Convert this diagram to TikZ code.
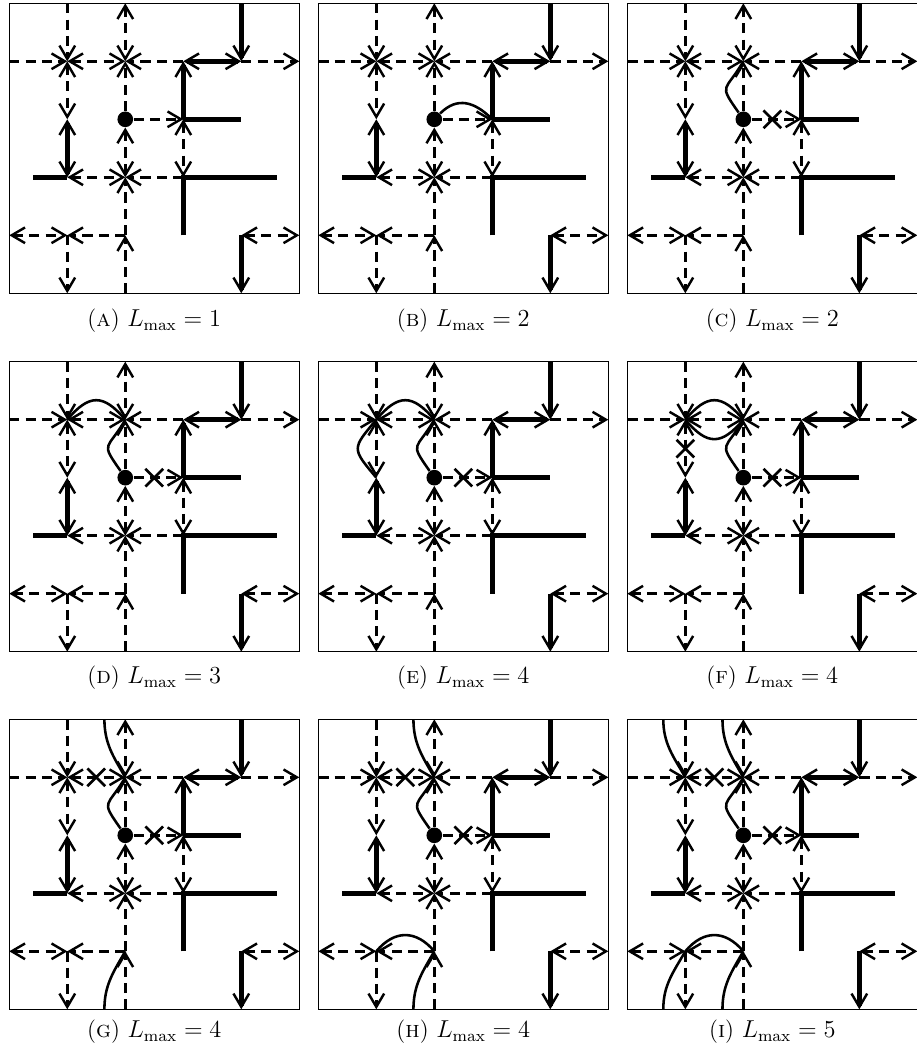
\documentclass[tikz,border=0pt]{standalone}
\usepackage{amsmath,amssymb}
\usepackage{tikz}
\usetikzlibrary{arrows.meta, shapes.misc}

% the common map of one panel, counted from the top left corner
\newcommand{\basemap}{%
  \foreach \i in {0,...,5}
    \foreach \j in {0,...,5}
      \coordinate (p\i\j) at (\i,5-\j);
  \coordinate (wl) at (0.41,2);
  \coordinate (wr) at (4.61,2);
  \draw[panelbox] (0,0) rectangle (5,5);
  \node[source] (src) at (p22) {};
  % dashed links
  \draw[link, ->] (p10) -- (p11);
  \draw[link, <->] (p11) -- (p12);
  \draw[link, <->] (p20) -- (p21);
  \draw[link, ->] (src) -- (p21);
  \draw[link, <->] (src) -- (p23);
  \draw[link, ->] (p24) -- (p23);
  \draw[link, ->] (p25) -- (p24);
  \draw[link, ->] (p14) -- (p15);
  \draw[link, ->] (p01) -- (p11);
  \draw[link, <->] (p11) -- (p21);
  \draw[link, ->] (p31) -- (p21);
  \draw[link, ->] (p41) -- (p51);
  \draw[link, ->] (src) -- (p32);
  \draw[link, <->] (p32) -- (p33);
  \draw[link, <->] (p13) -- (p23);
  \draw[link, ->] (p33) -- (p23);
  \draw[link, <->] (p04) -- (p14);
  \draw[link, ->] (p24) -- (p14);
  \draw[link, <->] (p44) -- (p54);
  % walls
  \draw[wall, <->] (p12) -- (p13);
  \draw[wall, ->] (p40) -- (p41);
  \draw[wall, <->] (p31) -- (p41);
  \draw[wall, ->] (p32) -- (p31);
  \draw[wall] (p32) -- (p42);
  \draw[wall] (wl) -- (p13);
  \draw[wall] (p34) -- (p33) -- (wr);
  \draw[wall, ->] (p44) -- (p45);
}

\begin{document}
\begin{tikzpicture}[
    >={Straight Barb[length=2.3mm, width=2.7mm, line width=1.2pt]},
    panelbox/.style={line width=0.6pt},
    link/.style={line width=1.25pt, dash pattern=on 5pt off 3pt},
    wall/.style={line width=2.2pt},
    walk/.style={line width=1.25pt},
    cut/.style={cross out, draw, line width=1.3pt, minimum size=0.26cm, inner sep=0pt},
    source/.style={circle, fill, minimum size=0.27cm, inner sep=0pt},
    caption/.style={anchor=base, font=\fontsize{11.5}{14}\selectfont}
]
\useasboundingbox (0,0) rectangle (15.793,18.069);

% first row
\begin{scope}[shift={(0.16,13.012)}]
  \basemap
  \node[caption] (capA) at (2.5,-0.58) {(\textsc{a}) $L_{\max} = 1$};
\end{scope}

\begin{scope}[shift={(5.488,13.012)}]
  \basemap
  \draw[walk] (src) to[out=45, in=135, looseness=1.2] (p32);
  \node[caption] (capB) at (2.5,-0.58) {(\textsc{b}) $L_{\max} = 2$};
\end{scope}

\begin{scope}[shift={(10.816,13.012)}]
  \basemap
  \node[cut] (xa) at (2.5,3) {};
  \draw[walk] (src) to[out=125, in=-120, looseness=1.8] (p21);
  \node[caption] (capC) at (2.5,-0.58) {(\textsc{c}) $L_{\max} = 2$};
\end{scope}

% second row
\begin{scope}[shift={(0.16,6.833)}]
  \basemap
  \node[cut] (xa) at (2.5,3) {};
  \draw[walk] (src) to[out=125, in=-120, looseness=1.8] (p21);
  \draw[walk] (p21) to[out=130, in=50, looseness=1.5] (p11);
  \node[caption] (capD) at (2.5,-0.55) {(\textsc{d}) $L_{\max} = 3$};
\end{scope}

\begin{scope}[shift={(5.488,6.833)}]
  \basemap
  \node[cut] (xa) at (2.5,3) {};
  \draw[walk] (src) to[out=125, in=-120, looseness=1.8] (p21);
  \draw[walk] (p21) to[out=130, in=50, looseness=1.5] (p11);
  \draw[walk] (p11) to[out=-130, in=130, looseness=1.7] (p12);
  \node[caption] (capE) at (2.5,-0.55) {(\textsc{e}) $L_{\max} = 4$};
\end{scope}

\begin{scope}[shift={(10.816,6.833)}]
  \basemap
  \node[cut] (xa) at (2.5,3) {};
  \node[cut] (xb) at (1,3.5) {};
  \draw[walk] (src) to[out=125, in=-120, looseness=1.8] (p21);
  \draw[walk] (p21) to[out=130, in=50, looseness=1.5] (p11);
  \draw[walk] (p21) to[out=-130, in=-50, looseness=1.5] (p11);
  \node[caption] (capF) at (2.5,-0.55) {(\textsc{f}) $L_{\max} = 4$};
\end{scope}

% third row
\begin{scope}[shift={(0.16,0.667)}]
  \basemap
  \coordinate (gt) at (1.64,5);
  \coordinate (gb) at (1.64,0);
  \node[cut] (xa) at (2.5,3) {};
  \node[cut] (xc) at (1.5,4) {};
  \draw[walk] (src) to[out=125, in=-120, looseness=1.8] (p21);
  \draw[walk] (p21) to[out=120, in=-90] (gt);
  \draw[walk] (p24) to[out=-120, in=90] (gb);
  \node[caption] (capG) at (2.5,-0.49) {(\textsc{g}) $L_{\max} = 4$};
\end{scope}

\begin{scope}[shift={(5.488,0.667)}]
  \basemap
  \coordinate (gt) at (1.64,5);
  \coordinate (gb) at (1.64,0);
  \node[cut] (xa) at (2.5,3) {};
  \node[cut] (xc) at (1.5,4) {};
  \draw[walk] (src) to[out=125, in=-120, looseness=1.8] (p21);
  \draw[walk] (p21) to[out=120, in=-90] (gt);
  \draw[walk] (p24) to[out=-120, in=90] (gb);
  \draw[walk] (p24) to[out=130, in=50, looseness=1.25] (p14);
  \node[caption] (capH) at (2.5,-0.49) {(\textsc{h}) $L_{\max} = 4$};
\end{scope}

\begin{scope}[shift={(10.816,0.667)}]
  \basemap
  \coordinate (gt) at (1.64,5);
  \coordinate (gb) at (1.64,0);
  \coordinate (it) at (0.62,5);
  \coordinate (ib) at (0.62,0);
  \node[cut] (xa) at (2.5,3) {};
  \node[cut] (xc) at (1.5,4) {};
  \draw[walk] (src) to[out=125, in=-120, looseness=1.8] (p21);
  \draw[walk] (p21) to[out=120, in=-90] (gt);
  \draw[walk] (p24) to[out=-120, in=90] (gb);
  \draw[walk] (p24) to[out=130, in=50, looseness=1.25] (p14);
  \draw[walk] (p11) to[out=120, in=-90] (it);
  \draw[walk] (p14) to[out=-120, in=90] (ib);
  \node[caption] (capI) at (2.5,-0.49) {(\textsc{i}) $L_{\max} = 5$};
\end{scope}

\end{tikzpicture}
\end{document}
